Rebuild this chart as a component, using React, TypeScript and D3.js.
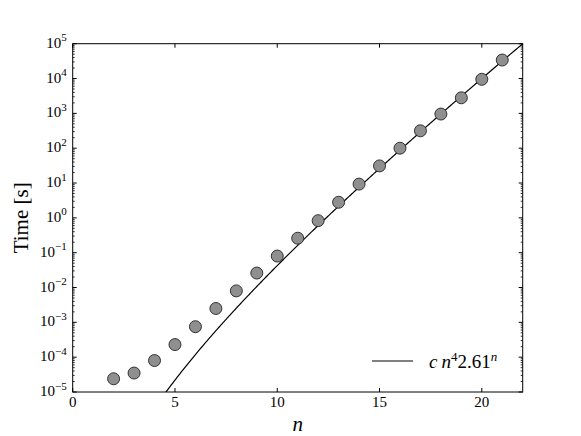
import React from "react";
import { scaleLinear, scaleLog, line, range } from "d3";

// measured run times, one per n
const nValues = [2, 3, 4, 5, 6, 7, 8, 9, 10, 11, 12, 13, 14, 15, 16, 17, 18, 19, 20, 21];
const times = [
  2.4e-5, 3.5e-5, 8e-5, 2.3e-4, 7.5e-4, 2.5e-3, 8e-3, 0.026, 0.08, 0.26,
  0.83, 2.8, 9.3, 31, 100, 316, 955, 2800, 9500, 34000,
];
const xTicks = [0, 5, 10, 15, 20];
const yExponents = [-5, -4, -3, -2, -1, 0, 1, 2, 3, 4, 5];

// fit curve from the legend: c n^4 2.61^n
const fitC = 2.9e-10;
const fitPower = 4;
const fitBase = 2.61;

const width = 581;
const height = 436;
const margin = { top: 43.7, right: 58.3, bottom: 44, left: 72.7 };
const font = "'Liberation Serif', 'DejaVu Serif', serif";

export default function App() {
  const x = scaleLinear().domain([0, 22]).range([margin.left, width - margin.right]);
  const y = scaleLog().domain([1e-5, 1e5]).range([height - margin.bottom, margin.top]);
  const [x0, x1] = x.range();
  const [y0, y1] = y.range();

  const fitN = range(4.4, 22.001, 0.05);
  const fitPath = line<number>()
    .x((n) => x(n))
    .y((n) => y(fitC * Math.pow(n, fitPower) * Math.pow(fitBase, n)))(fitN);

  const minorTicks: number[] = [];
  yExponents.slice(0, -1).forEach((e) => {
    for (let k = 2; k <= 9; k++) minorTicks.push(k * Math.pow(10, e));
  });

  return (
    <svg width={width} height={height} style={{ position: "absolute", left: 0, top: 0, background: "#fff" }}>
      <defs>
        <clipPath id="plot">
          <rect x={x0} y={y1} width={x1 - x0} height={y0 - y1} />
        </clipPath>
      </defs>

      {/* fit line */}
      <path d={fitPath || ""} fill="none" stroke="#000" strokeWidth={1.2} clipPath="url(#plot)" />

      {/* data points */}
      {nValues.map((n, i) => (
        <circle key={n} cx={x(n)} cy={y(times[i])} r={6} fill="#8f8f8f" stroke="#222" strokeWidth={0.9} />
      ))}

      {/* frame */}
      <rect x={x0} y={y1} width={x1 - x0} height={y0 - y1} fill="none" stroke="#000" strokeWidth={1} />

      {/* x ticks */}
      {xTicks.map((t) => (
        <g key={t}>
          <line x1={x(t)} x2={x(t)} y1={y0} y2={y0 - 4} stroke="#000" />
          <line x1={x(t)} x2={x(t)} y1={y1} y2={y1 + 4} stroke="#000" />
          <text x={x(t)} y={y0 + 15} textAnchor="middle" fontFamily={font} fontSize={15}>
            {t}
          </text>
        </g>
      ))}

      {/* y ticks */}
      {yExponents.map((e) => {
        const yy = y(Math.pow(10, e));
        return (
          <g key={e}>
            <line x1={x0} x2={x0 + 4} y1={yy} y2={yy} stroke="#000" />
            <line x1={x1} x2={x1 - 4} y1={yy} y2={yy} stroke="#000" />
            <text x={x0 - 6} y={yy + 4} textAnchor="end" fontFamily={font} fontSize={15}>
              10
              <tspan dy={-6.5} fontSize={11}>
                {e < 0 ? "\u2212" + Math.abs(e) : e}
              </tspan>
            </text>
          </g>
        );
      })}
      {minorTicks.map((v) => (
        <g key={v}>
          <line x1={x0} x2={x0 + 2} y1={y(v)} y2={y(v)} stroke="#000" strokeWidth={0.8} />
          <line x1={x1} x2={x1 - 2} y1={y(v)} y2={y(v)} stroke="#000" strokeWidth={0.8} />
        </g>
      ))}

      {/* axis labels */}
      <text x={(x0 + x1) / 2} y={height - 5} textAnchor="middle" fontFamily={font} fontSize={21} fontStyle="italic">
        n
      </text>
      <text
        transform={`translate(27.5, ${(y0 + y1) / 2}) rotate(-90)`}
        textAnchor="middle"
        fontFamily={font}
        fontSize={21}
      >
        Time [s]
      </text>

      {/* legend */}
      <line x1={372} x2={413} y1={361} y2={361} stroke="#000" strokeWidth={1.2} />
      <text x={429} y={368} fontFamily={font} fontSize={19}>
        <tspan fontStyle="italic">c</tspan>
        <tspan dx={4} fontStyle="italic">n</tspan>
        <tspan dy={-7.5} fontSize={13}>4</tspan>
        <tspan dy={7.5}>2.61</tspan>
        <tspan dy={-7.5} fontSize={13} fontStyle="italic">n</tspan>
      </text>
    </svg>
  );
}
